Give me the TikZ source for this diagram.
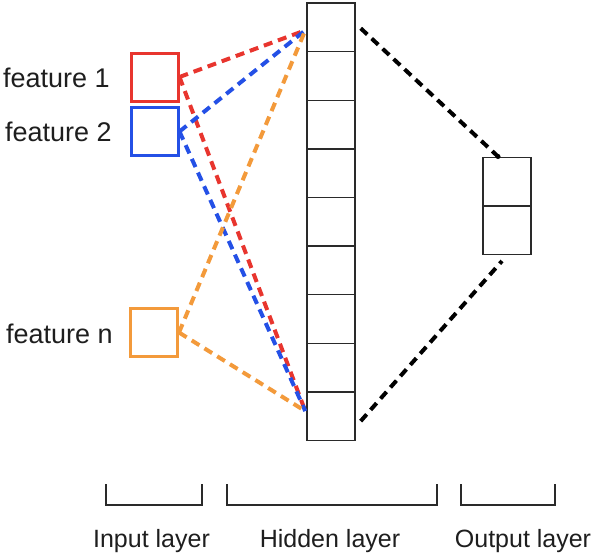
\documentclass[tikz,border=0pt]{standalone}
\usepackage{fontspec}
\setmainfont{Liberation Sans}
\usetikzlibrary{calc}
\definecolor{cred}{HTML}{E8352E}
\definecolor{cblue}{HTML}{2450E6}
\definecolor{corange}{HTML}{F39A3B}
\definecolor{ctext}{HTML}{1E1E1E}
\definecolor{cline}{HTML}{2A2A2A}
\tikzset{
  inbox/.style={draw=#1, line width=3pt, minimum width=47pt, minimum height=48pt, inner sep=0pt},
  cellbox/.style={draw=cline, line width=1.4pt, minimum width=48pt, minimum height=48.6pt, inner sep=0pt},
  conn/.style={draw=#1, line width=4pt, dash pattern=on 9pt off 6pt},
  feat/.style={text=ctext, font=\fontsize{27}{29}\selectfont, inner sep=0pt, anchor=base west},
  layerlbl/.style={text=ctext, font=\fontsize{25}{27}\selectfont, inner sep=0pt, anchor=base},
  brack/.style={draw=cline, line width=1.6pt}
}
\begin{document}
\begin{tikzpicture}[x=1pt, y=-1pt]
\useasboundingbox (0,0) rectangle (596,555);
% input boxes
\node[inbox=cred] (in1) at (154.5,77) {};
\node[inbox=cblue] (in2) at (154.5,131.5) {};
\node[inbox=corange] (inn) at (154,332.5) {};
% labels
\node[feat] (l1) at (3,87) {feature 1};
\node[feat] (l2) at (5,141) {feature 2};
\node[feat] (ln) at (6,343) {feature n};
% hidden layer
\foreach \i in {1,...,9} {
  \node[cellbox] (h\i) at (331,{3+24.3+(\i-1)*48.6}) {};
}
% output layer
\node[cellbox] (o1) at (507,181.5) {};
\node[cellbox] (o2) at (507,230) {};
% coordinates
\coordinate (ht) at ($(h1.west)+(-1,3)$);
\coordinate (hb) at ($(h9.west)+(-1,-5)$);
\coordinate (hte) at ($(h1.east)+(5,1)$);
\coordinate (hbe) at ($(h9.east)+(5,5)$);
\coordinate (ot) at ($(o1.north)+(-9,0)$);
\coordinate (ob) at ($(o2.south)+(-5,6)$);
% connectors
\draw[conn=cred] (in1.east) -- (ht);
\draw[conn=cred] (in1.east) -- (hb);
\draw[conn=cblue] (in2.east) -- (ht);
\draw[conn=cblue] (in2.east) -- (hb);
\draw[conn=corange] (inn.east) -- (ht);
\draw[conn=corange] (inn.east) -- (hb);
\draw[conn=black] (hte) -- (ot);
\draw[conn=black] (hbe) -- (ob);
\fill (ot) circle (2.5pt);
% brackets
\coordinate (b1a) at (106,484);
\coordinate (b1b) at (202,484);
\coordinate (b2a) at (227,484);
\coordinate (b2b) at (437,484);
\coordinate (b3a) at (461,484);
\coordinate (b3b) at (555,484);
\draw[brack] (b1a) -- ++(0,21) -| (b1b);
\draw[brack] (b2a) -- ++(0,21) -| (b2b);
\draw[brack] (b3a) -- ++(0,21) -| (b3b);
% layer labels
\node[layerlbl] (t1) at (151.5,547) {Input layer};
\node[layerlbl] (t2) at (330,547) {Hidden layer};
\node[layerlbl] (t3) at (523,547) {Output layer};
\end{tikzpicture}
\end{document}
